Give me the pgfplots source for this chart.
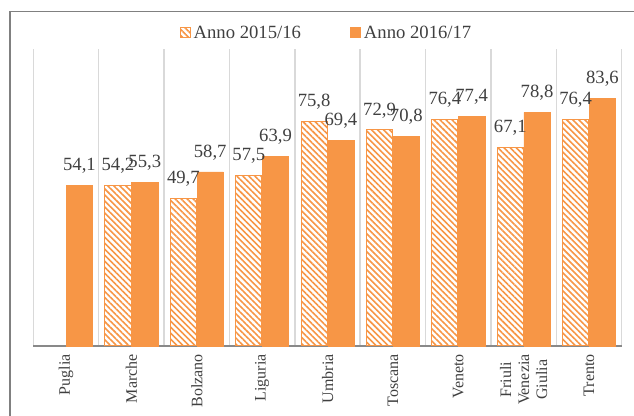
\documentclass[border=0pt]{standalone}
\usepackage{pgfplots}
\pgfplotsset{compat=1.18}
\usepackage{fontspec}
\setmainfont{Liberation Serif}
\usetikzlibrary{patterns.meta}
\definecolor{xorange}{RGB}{247,150,70}
\definecolor{gridgray}{RGB}{217,217,217}
\definecolor{axgray}{RGB}{137,137,137}
\definecolor{framegray}{RGB}{128,128,128}
\definecolor{txt}{RGB}{64,64,64}
\begin{document}
\begin{tikzpicture}
\path[use as bounding box] (0,0) rectangle (475.5pt,312pt);
\draw[framegray, line width=1.2pt] (7.5pt,0) -- (7.5pt,303.4pt) -- (475.5pt,303.4pt);
\begin{axis}[
  at={(25pt,52.5pt)}, anchor=south west,
  scale only axis, width=441.3pt, height=222.4pt,
  xmin=-0.5, xmax=8.5, ymin=0, ymax=100,
  axis x line*=bottom, axis y line=none,
  x axis line style={axgray, line width=1.1pt},
  xtick={0,...,8},
  xticklabels={Puglia,Marche,Bolzano,Liguria,Umbria,Toscana,Veneto,{Friuli\\Venezia\\Giulia},Trento},
  xticklabel style={rotate=90, anchor=east, align=center, font=\fontsize{12}{13.5}\selectfont, text=txt, inner xsep=6pt, inner ysep=0pt},
  major tick length=0pt, minor tick length=0pt,
  minor xtick={-0.5,0.5,...,8.5},
  xminorgrids, minor grid style={gridgray, line width=1.1pt},
  ytick=\empty,
  ybar, bar width=0.4,
  nodes near coords,
  every node near coord/.append style={font=\fontsize{14}{16}\selectfont, text=txt, anchor=base, yshift=11pt},
  /pgf/number format/use comma,
  /pgf/number format/fixed,
  /pgf/number format/fixed zerofill,
  /pgf/number format/precision=1,
  /pgf/number format/assume math mode=true,
  legend columns=2,
  legend style={at={(axis description cs:0.499,1.056)}, anchor=center, draw=none, fill=none, font=\fontsize{14}{16}\selectfont, text=txt, /tikz/every even column/.append style={column sep=35pt}},
  legend image code/.code={\draw[#1, line width=0.75pt] (0pt,-3.75pt) rectangle (7.5pt,3.75pt);},
  clip=false,
]
\addplot[draw=xorange, line width=0.75pt, pattern={Lines[angle=-45,distance=3.2pt,line width=1.2pt]}, pattern color=xorange, bar shift=-0.205]
  coordinates {(1,54.2) (2,49.7) (3,57.5) (4,75.8) (5,72.9) (6,76.4) (7,67.1) (8,76.4)};
\addplot[draw=xorange, fill=xorange, bar shift=0.205]
  coordinates {(0,54.1) (1,55.3) (2,58.7) (3,63.9) (4,69.4) (5,70.8) (6,77.4) (7,78.8) (8,83.6)};
\legend{Anno 2015/16, Anno 2016/17}
\end{axis}
\end{tikzpicture}
\end{document}
